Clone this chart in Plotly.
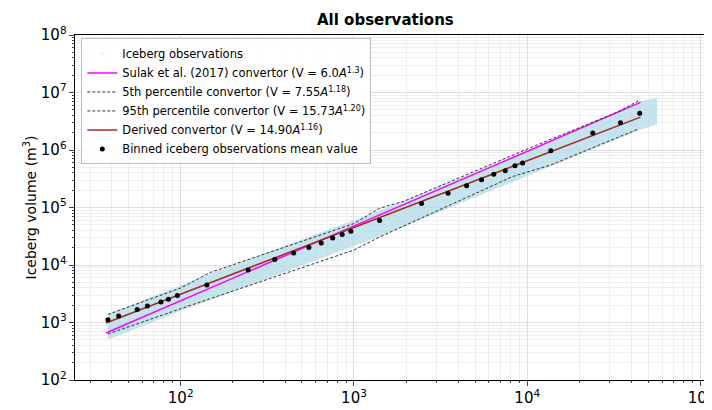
import numpy as np
import plotly.graph_objects as go

# binned mean values (log10 area, log10 volume)
bin_log_a = [1.58, 1.642, 1.749, 1.808, 1.886, 1.929, 1.981, 2.151, 2.389, 2.543, 2.652, 2.74,
             2.811, 2.877, 2.932, 2.982, 3.148, 3.39, 3.543, 3.65, 3.736, 3.807, 3.873, 3.929,
             3.973, 4.136, 4.378, 4.538, 4.649]
bin_log_v = [3.05, 3.114, 3.226, 3.289, 3.357, 3.403, 3.471, 3.651, 3.913, 4.094, 4.207, 4.304,
             4.383, 4.468, 4.531, 4.587, 4.774, 5.07, 5.25, 5.38, 5.483, 5.58, 5.641, 5.727,
             5.772, 5.988, 6.294, 6.475, 6.64]

# percentile convertors (piecewise)
p95_log_a = [1.58, 2.0, 2.17, 3.0, 3.15, 3.289, 4.05, 4.53, 4.645]
p95_log_v = [3.14, 3.6, 3.87, 4.72, 4.99, 5.11, 6.08, 6.67, 6.86]
p5_log_a = [1.58, 2.0, 3.0, 3.15, 3.917, 4.136, 4.645]
p5_log_v = [2.80, 3.24, 4.26, 4.49, 5.54, 5.74, 6.37]

# envelope of the observation cloud
cloud_up_a = [1.58, 2.17, 3.15, 4.05, 4.65, 4.75]
cloud_up_v = [3.15, 3.85, 4.95, 6.05, 6.85, 6.9]
cloud_lo_a = [1.58, 2.0, 3.15, 4.14, 4.65, 4.75]
cloud_lo_v = [2.7, 3.2, 4.5, 5.72, 6.35, 6.45]

a_min, a_max = 37, 45000


def p10(v):
    return [10 ** x for x in v]


a = np.logspace(np.log10(a_min), np.log10(a_max), 100)

fig = go.Figure()
fig.add_trace(go.Scatter(
    x=p10(cloud_up_a) + p10(cloud_lo_a)[::-1], y=p10(cloud_up_v) + p10(cloud_lo_v)[::-1],
    fill="toself", fillcolor="rgba(173,216,230,0.7)", line=dict(width=0),
    mode="lines", showlegend=False, hoverinfo="skip"))
fig.add_trace(go.Scatter(x=[None], y=[None], mode="markers",
                         marker=dict(color="rgba(173,216,230,0.4)", size=3),
                         name="Iceberg observations"))
fig.add_trace(go.Scatter(x=a, y=6.0 * a ** 1.3, mode="lines", line=dict(color="magenta", width=1.5),
                         name="Sulak et al. (2017) convertor (V = 6.0<i>A</i><sup>1.3</sup>)"))
fig.add_trace(go.Scatter(x=p10(p5_log_a), y=p10(p5_log_v), mode="lines",
                         line=dict(color="#333", width=1, dash="3px,2px"),
                         name="5th percentile convertor (V = 7.55<i>A</i><sup>1.18</sup>)"))
fig.add_trace(go.Scatter(x=p10(p95_log_a), y=p10(p95_log_v), mode="lines",
                         line=dict(color="#333", width=1, dash="3px,2px"),
                         name="95th percentile convertor (V = 15.73<i>A</i><sup>1.20</sup>)"))
fig.add_trace(go.Scatter(x=a, y=14.9 * a ** 1.16, mode="lines", line=dict(color="#a52a2a", width=1.5),
                         name="Derived convertor (V = 14.90<i>A</i><sup>1.16</sup>)"))
fig.add_trace(go.Scatter(x=p10(bin_log_a), y=p10(bin_log_v), mode="markers",
                         marker=dict(color="black", size=5),
                         name="Binned iceberg observations mean value"))

axis_common = dict(type="log", dtick=1, exponentformat="power", showline=True, linecolor="black",
                   mirror=True, ticks="outside", gridcolor="#ddd", zeroline=False,
                   minor=dict(showgrid=True, gridcolor="#eee", ticks="outside", ticklen=2),
                   tickfont=dict(size=12, color="black"))
fig.update_xaxes(range=[1.39, 5.02], **axis_common)
fig.update_yaxes(range=[2, 8], title=dict(text="Iceberg volume (m<sup>3</sup>)", font=dict(size=14)),
                 **axis_common)
fig.update_layout(
    width=712, height=410, template="none",
    font=dict(family="DejaVu Sans", color="black"),
    margin=dict(l=67, r=16, t=27, b=38),
    title=dict(text="<b>All observations</b>", x=0.53, y=0.985, font=dict(size=15)),
    plot_bgcolor="white", paper_bgcolor="white",
    legend=dict(x=0.01, y=0.99, bgcolor="rgba(255,255,255,0.9)", bordercolor="#bbb", borderwidth=1,
                font=dict(size=11.5), tracegroupgap=0, itemwidth=30),
)
fig.write_html("out.html")
